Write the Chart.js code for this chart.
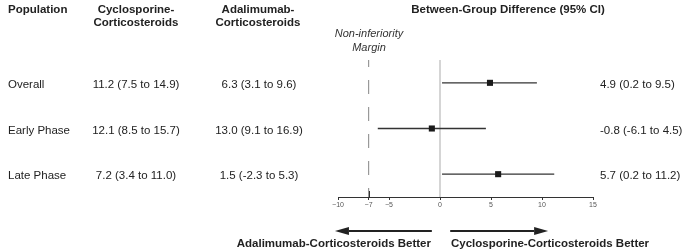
<!DOCTYPE html>
<html lang="en">
<head>
    <meta charset="UTF-8">
    <title>Between-Group Difference Forest Plot</title>
    <style>
        body { margin: 0; background: #fff; }
        #wrap {
            position: relative;
            width: 685px;
            height: 251px;
            font-family: "Liberation Sans", Arial, sans-serif;
            color: #222;
        }
        #wrap canvas { position: absolute; left: 0; top: 0; }
        .txt { position: absolute; white-space: nowrap; font-size: 11.5px; line-height: 14px; }
        .hdr { font-weight: bold; font-size: 11.5px; line-height: 13px; }
        .ctr { text-align: center; transform: translateX(-50%); }
        .row { transform: translateY(-50%); }
        .row.ctr { transform: translate(-50%, -50%); }
        .margin { font-style: italic; color: #333; text-align: center; transform: translateX(-50%); line-height: 14px; font-size: 11px; }
    </style>
</head>
<body>
    <div id="wrap">
        <canvas id="forestChart"></canvas>
        <div class="txt hdr" style="left:8px; top:3px;">Population</div>
        <div class="txt hdr ctr" style="left:136px; top:3px;">Cyclosporine-<br>Corticosteroids</div>
        <div class="txt hdr ctr" style="left:258px; top:3px;">Adalimumab-<br>Corticosteroids</div>
        <div class="txt hdr ctr" style="left:508px; top:3px;">Between-Group Difference (95% CI)</div>
        <div class="txt margin" style="left:369px; top:26px;">Non-inferiority<br>Margin</div>
        <div id="rows"></div>
        <div class="txt hdr" style="right:254px; top:237px;">Adalimumab-Corticosteroids Better</div>
        <div class="txt hdr" style="left:451px; top:237px;">Cyclosporine-Corticosteroids Better</div>
    </div>

    <script src="https://cdn.jsdelivr.net/npm/chart.js"></script>
    <script>
        // Table data
        const populations = ['Overall', 'Early Phase', 'Late Phase'];
        const cyclo = [11.2, 12.1, 7.2];
        const cycloLo = [7.5, 8.5, 3.4];
        const cycloHi = [14.9, 15.7, 11.0];
        const adali = [6.3, 13.0, 1.5];
        const adaliLo = [3.1, 9.1, -2.3];
        const adaliHi = [9.6, 16.9, 5.3];

        // Between-group difference (95% CI)
        const diff = [4.9, -0.8, 5.7];
        const diffLo = [0.2, -6.1, 0.2];
        const diffHi = [9.5, 4.5, 11.2];

        // Axis
        const xTicks = [-10, -7, -5, 0, 5, 10, 15];
        const marginValue = -7;
        const leftArrow = [-0.8, -10.3];   // from, to (arrowhead)
        const rightArrow = [1.0, 10.6];

        const rowPos = populations.map((p, i) => i + 1);
        const fmt = v => v.toFixed(1);
        const ci = (e, lo, hi) => fmt(e) + ' (' + fmt(lo) + ' to ' + fmt(hi) + ')';

        // CI line datasets, one per row
        const ciSets = populations.map((p, i) => ({
            type: 'line',
            label: p + ' CI',
            data: [{ x: diffLo[i], y: rowPos[i] }, { x: diffHi[i], y: rowPos[i] }],
            borderColor: '#333',
            borderWidth: 1.3,
            pointRadius: 0,
            order: 2
        }));

        // build the text rows, placed on the chart's row positions
        const rowsDiv = document.getElementById('rows');
        const rowEls = populations.map((p, i) => {
            const cells = [
                { text: p, left: 8, cls: 'txt row' },
                { text: ci(cyclo[i], cycloLo[i], cycloHi[i]), left: 136, cls: 'txt row ctr' },
                { text: ci(adali[i], adaliLo[i], adaliHi[i]), left: 259, cls: 'txt row ctr' },
                { text: ci(diff[i], diffLo[i], diffHi[i]), left: 600, cls: 'txt row' }
            ];
            return cells.map(c => {
                const d = document.createElement('div');
                d.className = c.cls;
                d.style.left = c.left + 'px';
                d.textContent = c.text;
                rowsDiv.appendChild(d);
                return d;
            });
        });

        const placeRows = {
            id: 'placeRows',
            afterLayout(chart) {
                const ys = chart.scales.y;
                rowEls.forEach((els, i) => {
                    const py = ys.getPixelForValue(rowPos[i]) + 1;
                    els.forEach(el => { el.style.top = py + 'px'; });
                });
            }
        };

        // -7 tick above the axis and the two direction arrows
        const extras = {
            id: 'extras',
            afterDraw(chart) {
                const ctx = chart.ctx;
                const xs = chart.scales.x;
                const bottom = chart.chartArea.bottom;
                ctx.save();
                ctx.strokeStyle = '#333';
                ctx.lineWidth = 1;
                const mx = Math.round(xs.getPixelForValue(marginValue)) + 0.5;
                ctx.beginPath();
                ctx.moveTo(mx, bottom - 6);
                ctx.lineTo(mx, bottom);
                ctx.stroke();

                const ay = bottom + 34;
                [leftArrow, rightArrow].forEach(a => {
                    const x0 = xs.getPixelForValue(a[0]);
                    const x1 = xs.getPixelForValue(a[1]);
                    const dir = Math.sign(x1 - x0);
                    const headLen = 14;
                    ctx.strokeStyle = '#222';
                    ctx.fillStyle = '#222';
                    ctx.lineWidth = 2;
                    ctx.beginPath();
                    ctx.moveTo(x0, ay);
                    ctx.lineTo(x1 - dir * headLen, ay);
                    ctx.stroke();
                    ctx.beginPath();
                    ctx.moveTo(x1, ay);
                    ctx.lineTo(x1 - dir * headLen, ay - 4);
                    ctx.lineTo(x1 - dir * headLen, ay + 4);
                    ctx.closePath();
                    ctx.fill();
                });
                ctx.restore();
            }
        };

        const ctx = document.getElementById('forestChart').getContext('2d');
        const chart = new Chart(ctx, {
            type: 'scatter',
            data: {
                datasets: [
                    {
                        type: 'line',
                        label: 'No difference',
                        data: [{ x: 0, y: 0.5 }, { x: 0, y: 3.5 }],
                        borderColor: '#cfcfcf',
                        borderWidth: 1,
                        pointRadius: 0,
                        order: 4
                    },
                    {
                        type: 'line',
                        label: 'Non-inferiority margin',
                        data: [{ x: marginValue, y: 0.5 }, { x: marginValue, y: 3.5 }],
                        borderColor: '#999',
                        borderWidth: 1.2,
                        borderDash: [14, 13],
                        borderDashOffset: 7,
                        pointRadius: 0,
                        order: 3
                    },
                    ...ciSets,
                    {
                        label: 'Difference',
                        data: diff.map((d, i) => ({ x: d, y: rowPos[i] })),
                        pointStyle: 'rect',
                        pointRadius: 4.3,
                        backgroundColor: '#1a1a1a',
                        borderColor: '#1a1a1a',
                        borderWidth: 0,
                        order: 1
                    }
                ]
            },
            options: {
                responsive: true,
                maintainAspectRatio: false,
                animation: false,
                layout: {
                    padding: { left: 338, right: 92, top: 60, bottom: 40 }
                },
                scales: {
                    x: {
                        type: 'linear',
                        min: -10,
                        max: 15,
                        afterBuildTicks: s => { s.ticks = xTicks.map(v => ({ value: v })); },
                        afterFit: s => { s.height = 14; },
                        grid: {
                            drawOnChartArea: false,
                            drawTicks: true,
                            tickLength: 3,
                            color: '#333'
                        },
                        border: { color: '#333', width: 1 },
                        ticks: {
                            autoSkip: false,
                            maxRotation: 0,
                            padding: 1,
                            color: '#555',
                            font: { family: 'Liberation Sans, Arial, sans-serif', size: 7 },
                            callback: v => String(v).replace('-', '\u2212')
                        }
                    },
                    y: {
                        type: 'linear',
                        display: false,
                        reverse: true,
                        min: 0.5,
                        max: 3.5
                    }
                },
                plugins: {
                    legend: { display: false },
                    tooltip: { enabled: false }
                }
            },
            plugins: [placeRows, extras]
        });
    </script>
</body>
</html>
